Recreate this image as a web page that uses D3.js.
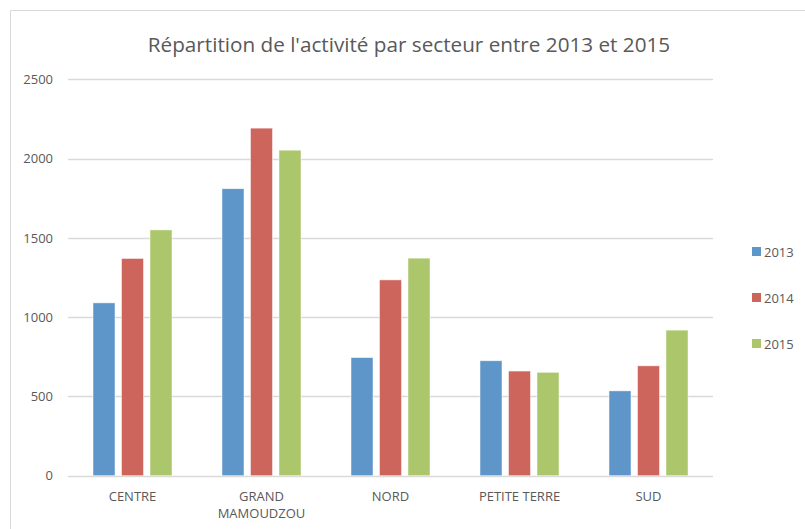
<!DOCTYPE html>
<html><head><meta charset="utf-8">
<script src="https://cdn.jsdelivr.net/npm/d3@7"></script>
<style>body{margin:0;background:#fff}svg{display:block}text{font-family:"Open Sans",sans-serif;fill:#595959}</style>
</head><body><svg id="c" width="805" height="529"></svg>
<script>
const categories = ["CENTRE", "GRAND MAMOUDZOU", "NORD", "PETITE TERRE", "SUD"];
const series = ["2013", "2014", "2015"];
const v2013 = [1090, 1810, 745, 725, 535];
const v2014 = [1370, 2192, 1235, 660, 693];
const v2015 = [1550, 2053, 1372, 652, 918];
const yTicks = [0, 500, 1000, 1500, 2000, 2500];
const colors = ["#5f96c9", "#ce655c", "#acc66b"];
const title = "Répartition de l'activité par secteur entre 2013 et 2015";

const values = [v2013, v2014, v2015];
const svg = d3.select("#c");
// outer border
svg.append("path").attr("d","M10.5,529 V10.5 H805").attr("fill","none").attr("stroke","#d9d9d9");

const x0 = d3.scaleBand().domain(categories).range([68, 713]);
const x1 = d3.scaleBand().domain(series).range([25, 104]).paddingInner(0.228);
const y = d3.scaleLinear().domain([0, 2500]).range([475.7, 79.3]);

// gridlines
svg.append("g").selectAll("line").data(yTicks).join("line")
  .attr("x1", 68).attr("x2", 713).attr("y1", d => Math.round(y(d))+0.5).attr("y2", d => Math.round(y(d))+0.5)
  .attr("stroke", "#d9d9d9").attr("stroke-width", 1.5);

// y labels
const yAxis = d3.axisLeft(y).tickValues(yTicks).tickSize(0).tickPadding(0).tickFormat(d3.format("d"));
const ga = svg.append("g").attr("transform","translate(53,0)").call(yAxis);
ga.select(".domain").remove();
ga.selectAll("text").style("font-size","13px").attr("fill","#595959").style("font-family","'Open Sans',sans-serif");

// bars
series.forEach((s, si) => {
  svg.append("g").selectAll("rect").data(categories).join("rect")
    .attr("x", (c) => x0(c) + x1(s))
    .attr("width", x1.bandwidth())
    .attr("y", (c, i) => y(values[si][i]))
    .attr("height", (c, i) => y(0) - y(values[si][i]))
    .attr("fill", colors[si])
    .attr("stroke", "#fff").attr("stroke-opacity", 0.6).attr("stroke-width", 0.8);
});

// x labels
const xl = svg.append("g").selectAll("text").data(categories).join("text")
  .attr("x", c => x0(c) + x0.bandwidth()/2)
  .attr("y", 501)
  .attr("text-anchor", "middle")
  .style("font-size", "13px");
xl.each(function(c){
  const parts = c === "GRAND MAMOUDZOU" ? ["GRAND","MAMOUDZOU"] : [c];
  const t = d3.select(this);
  parts.forEach((p, i) => t.append("tspan").attr("x", x0(c) + x0.bandwidth()/2).attr("dy", i ? 17 : 0).text(p));
});

// title
svg.append("text").attr("x", 409).attr("y", 52).attr("text-anchor","middle")
  .style("font-size","20.7px").text(title);

// legend
const lg = svg.append("g").selectAll("g").data(series).join("g")
  .attr("transform", (d,i) => `translate(752,${247 + i*46})`);
lg.append("rect").attr("width",9).attr("height",9).attr("fill",(d,i)=>colors[i]);
lg.append("text").attr("x",12).attr("y",9.5).style("font-size","13px").text(d=>d);
</script></body></html>
